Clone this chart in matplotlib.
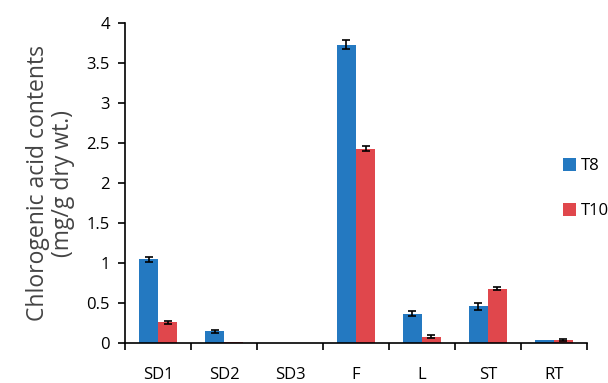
import matplotlib
matplotlib.use("Agg")
import matplotlib.pyplot as plt
import numpy as np

categories = ["SD1", "SD2", "SD3", "F", "L", "ST", "RT"]
t8 = [1.05, 0.15, 0.0, 3.73, 0.37, 0.46, 0.04]
t10 = [0.26, 0.01, 0.0, 2.43, 0.08, 0.68, 0.04]
t8_err = [0.03, 0.02, 0.0, 0.06, 0.03, 0.04, 0.0]
t10_err = [0.02, 0.0, 0.0, 0.03, 0.02, 0.02, 0.01]

plt.rcParams['font.family'] = ['Open Sans', 'DejaVu Sans']

fig = plt.figure(figsize=(6.08, 3.83), dpi=100)
ax = fig.add_axes([0.206, 0.104, 0.759, 0.836])

# hide the caps where there is no error
e8 = [e if e > 0 else np.nan for e in t8_err]
e10 = [e if e > 0 else np.nan for e in t10_err]

x = np.arange(len(categories))
w = 0.29
ekw = dict(ecolor="black", capsize=3, elinewidth=1.2, capthick=1.2)
ax.bar(x - w/2, t8, w, color="#2479C1", label="T8", yerr=e8, error_kw=ekw)
ax.bar(x + w/2, t10, w, color="#E0474C", label="T10", yerr=e10, error_kw=ekw)

ax.set_xlim(-0.5, len(categories) - 0.5)
ax.set_ylim(0, 4)
ax.set_yticks([0, 0.5, 1, 1.5, 2, 2.5, 3, 3.5, 4])
ax.set_yticklabels(["0", "0.5", "1", "1.5", "2", "2.5", "3", "3.5", "4"])
ax.set_xticks(np.arange(-0.5, len(categories), 1.0))
ax.set_xticklabels([])
ax.set_xticks(x, minor=True)
ax.set_xticklabels(categories, minor=True)
ax.tick_params(axis="x", which="minor", length=0, pad=17, labelsize=12)
ax.tick_params(axis="x", which="major", length=5, width=1.2)
ax.tick_params(axis="y", length=5, width=1.2, labelsize=12, pad=6)

for s in ["top", "right"]:
    ax.spines[s].set_visible(False)
for s in ["left", "bottom"]:
    ax.spines[s].set_linewidth(1.2)

ax.set_ylabel("Chlorogenic acid contents\n(mg/g dry wt.)", fontsize=16.5,
              color="#444444", labelpad=8, linespacing=1.1)

fig.legend(loc="upper left", bbox_to_anchor=(0.915, 0.605), frameon=False,
           fontsize=12, handlelength=0.8, handleheight=0.8, handletextpad=0.3,
           labelspacing=1.75, borderaxespad=0)

fig.savefig("out.png", dpi=100)
